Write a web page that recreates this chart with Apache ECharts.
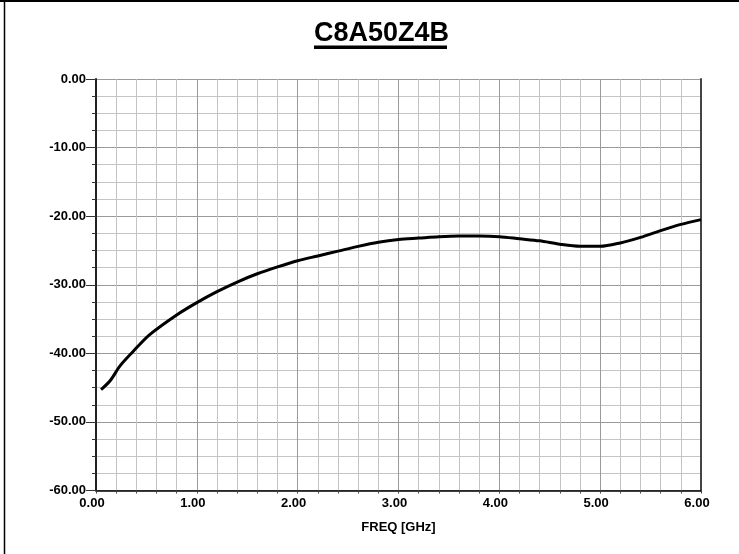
<!DOCTYPE html>
<html>
<head>
<meta charset="utf-8">
<script src="https://cdn.jsdelivr.net/npm/echarts@6/dist/echarts.min.js"></script>
<style>
html,body{margin:0;padding:0;background:#fff;}
#chart{width:739px;height:554px;}
</style>
</head>
<body>
<div id="chart"></div>
<script>
var titleText = 'C8A50Z4B';
var xAxisName = 'FREQ [GHz]';
var freqGHz = [0.05, 0.14, 0.24, 0.37, 0.53, 0.8, 1.0, 1.2, 1.4, 1.6, 1.8, 2.0, 2.2, 2.4, 2.6, 2.8, 3.0, 3.2, 3.4, 3.6, 3.8, 4.0, 4.2, 4.4, 4.6, 4.8, 5.0, 5.2, 5.4, 5.6, 5.8, 6.0];
var dBValues = [-45.3, -44.0, -41.8, -39.7, -37.3, -34.4, -32.6, -31.0, -29.6, -28.4, -27.4, -26.5, -25.8, -25.1, -24.4, -23.8, -23.4, -23.2, -23.0, -22.9, -22.9, -23.0, -23.3, -23.6, -24.1, -24.4, -24.4, -23.9, -23.1, -22.1, -21.2, -20.5];

var seriesData = freqGHz.map(function (f, i) { return [f, dBValues[i]]; });
var FONT = '"Liberation Sans", Arial, sans-serif';

var chart = echarts.init(document.getElementById('chart'), null, {renderer: 'canvas'});
chart.setOption({
  animation: false,
  backgroundColor: '#fff',
  title: {
    text: titleText,
    left: 314,
    top: 20,
    padding: 0,
    textStyle: {fontFamily: FONT, fontSize: 27, fontWeight: 'bold', color: '#000'}
  },
  graphic: [
    {type: 'rect', left: 314, top: 45.5, shape: {width: 133, height: 3.5}, style: {fill: '#000'}, silent: true},
    {type: 'line', shape: {x1: 0, y1: 1, x2: 739, y2: 1}, style: {stroke: '#000', lineWidth: 2}, silent: true},
    {type: 'line', shape: {x1: 4.5, y1: 0, x2: 4.5, y2: 554}, style: {stroke: '#000', lineWidth: 1.5}, silent: true}
  ],
  grid: {left: 96, right: 38, top: 79, bottom: 63.5, containLabel: false},
  xAxis: {
    type: 'value',
    min: 0, max: 6, interval: 1,
    name: xAxisName,
    nameLocation: 'middle',
    nameGap: 30,
    nameTextStyle: {fontFamily: FONT, fontSize: 13, fontWeight: 'bold', color: '#000'},
    axisLine: {show: true, onZero: false, lineStyle: {color: '#000', width: 1.5}},
    axisTick: {show: true, length: 3, lineStyle: {color: '#444'}},
    minorTick: {show: true, splitNumber: 5, length: 3, lineStyle: {color: '#444'}},
    axisLabel: {
      fontFamily: FONT, fontSize: 13, fontWeight: 'bold', color: '#000', margin: 6,
      padding: [0, 8, 0, 0],
      formatter: function (v) { return v.toFixed(2); }
    },
    splitLine: {show: true, lineStyle: {color: '#9a9a9a', width: 1}},
    minorSplitLine: {show: true, lineStyle: {color: '#c4c4c4', width: 1}}
  },
  yAxis: [{
    type: 'value',
    min: -60, max: 0, interval: 10,
    axisLine: {show: true, onZero: false, lineStyle: {color: '#222', width: 2}},
    axisTick: {show: true, length: 10, lineStyle: {color: '#333'}},
    minorTick: {show: true, splitNumber: 4, length: 4, lineStyle: {color: '#333'}},
    axisLabel: {
      fontFamily: FONT, fontSize: 13, fontWeight: 'bold', color: '#000', margin: 10,
      formatter: function (v) { return v.toFixed(2); }
    },
    splitLine: {show: true, lineStyle: {color: '#9a9a9a', width: 1}},
    minorSplitLine: {show: true, lineStyle: {color: '#c4c4c4', width: 1}}
  }, {
    type: 'value',
    position: 'right',
    min: -60, max: 0, interval: 10,
    axisLine: {show: true, onZero: false, lineStyle: {color: '#444', width: 2}},
    axisTick: {show: false},
    axisLabel: {show: false},
    splitLine: {show: false}
  }],
  series: [{
    type: 'line',
    data: seriesData,
    yAxisIndex: 0,
    smooth: 0.3,
    showSymbol: false,
    lineStyle: {color: '#000', width: 3},
    silent: true
  }]
});
</script>
</body>
</html>
